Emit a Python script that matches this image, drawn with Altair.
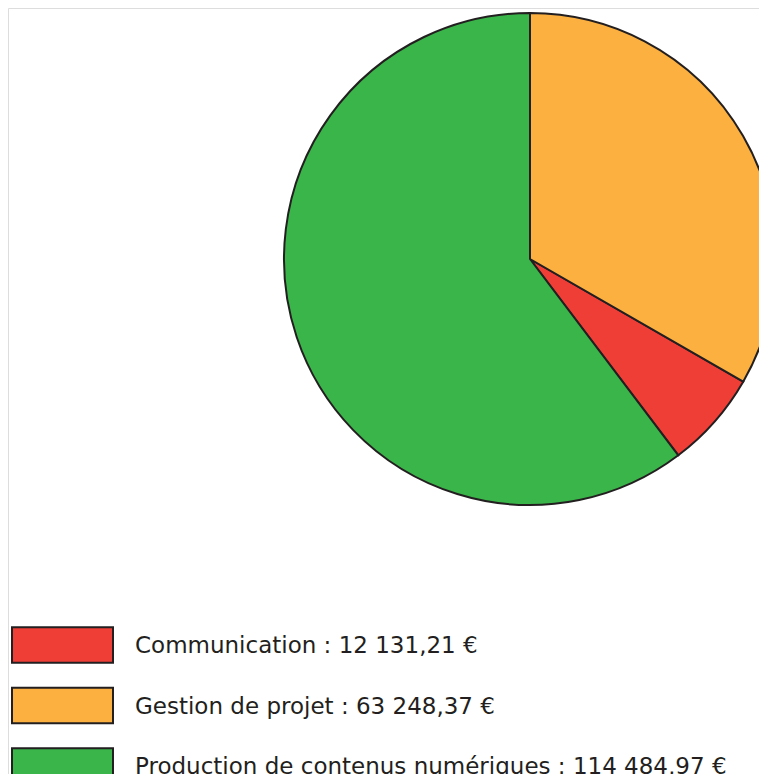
import altair as alt
import pandas as pd

categories = ["Communication", "Gestion de projet", "Production de contenus numériques"]
values = [12131.21, 63248.37, 114484.97]
value_labels = ["12 131,21 €", "63 248,37 €", "114 484,97 €"]
pie_order = [2, 1, 3]
legend_order = [0, 1, 2]
colors = ["#EF3E36", "#FBB040", "#3AB54A"]

df = pd.DataFrame({
    "cat": categories,
    "value": values,
    "vlabel": value_labels,
    "porder": pie_order,
    "lorder": legend_order,
})

color = alt.Color("cat:N", scale=alt.Scale(domain=categories, range=colors), legend=None)

pie = alt.Chart(df).mark_arc(stroke="#231F20", strokeWidth=2).encode(
    theta=alt.Theta("value:Q", stack=True),
    order=alt.Order("porder:Q"),
    color=color,
    x=alt.value(522),
    y=alt.value(251),
    radius=alt.value(246),
)

yscale = alt.Scale(domain=[0, 2], range=[637, 758])

rects = alt.Chart(df).transform_calculate(
    y0="datum.lorder - 0.295", y1="datum.lorder + 0.295"
).mark_rect(stroke="#231F20", strokeWidth=2).encode(
    y=alt.Y("y0:Q", scale=yscale, axis=None),
    y2="y1:Q",
    x=alt.value(4),
    x2=alt.value(105),
    color=color,
)

texts = alt.Chart(df).transform_calculate(
    txt="datum.cat + ' : ' + datum.vlabel"
).mark_text(align="left", baseline="middle", font="DejaVu Sans", fontSize=23, color="#231F20", dy=1).encode(
    y=alt.Y("lorder:Q", scale=yscale, axis=None),
    x=alt.value(127),
    text="txt:N",
)

chart = alt.layer(pie, rects, texts).properties(
    width=751, height=766, padding=0, autosize=alt.AutoSizeParams(type="none")
).configure_view(stroke="transparent", strokeWidth=0).configure(background="white")

chart.save("out.html", embed_options={"renderer": "svg", "actions": False})
